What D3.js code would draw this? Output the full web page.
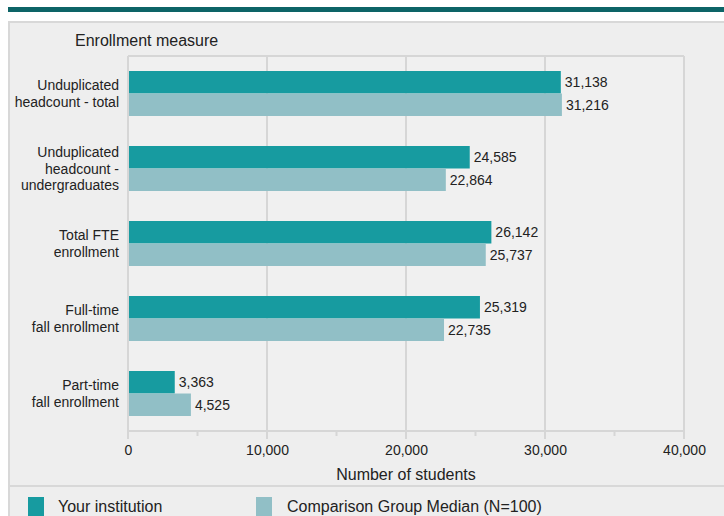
<!DOCTYPE html>
<html><head><meta charset="utf-8">
<script src="https://cdn.jsdelivr.net/npm/d3@7"></script>
<style>
html,body{margin:0;padding:0;background:#fff;}
svg{display:block;font-family:"Liberation Sans",Arial,sans-serif;}
</style></head>
<body>
<svg id="c" width="724" height="516"></svg>
<script>
const categories = [
  ["Unduplicated", "headcount - total"],
  ["Unduplicated", "headcount -", "undergraduates"],
  ["Total FTE", "enrollment"],
  ["Full-time", "fall enrollment"],
  ["Part-time", "fall enrollment"]
];
const institutionValues = [31138, 24585, 26142, 25319, 3363];
const medianValues = [31216, 22864, 25737, 22735, 4525];
const seriesNames = ["Your institution", "Comparison Group Median (N=100)"];
const xTicks = [0, 10000, 20000, 30000, 40000];
const minorTicks = [5000, 15000, 25000, 35000];
const yTitle = "Enrollment measure";
const xTitle = "Number of students";

const colors = ["#179ba0", "#91bfc6"];
const svg = d3.select("#c");
const W = 724, H = 516;

// header band
svg.append("rect").attr("x", 8).attr("y", 7).attr("width", W - 8).attr("height", 5).attr("fill", "#0d6467");
// panel
svg.append("rect").attr("x", 9).attr("y", 22).attr("width", W).attr("height", H).attr("fill", "#eeeeee")
  .attr("stroke", "#d8d8d8").attr("stroke-width", 2);
// legend separator
svg.append("line").attr("x1", 9).attr("x2", W).attr("y1", 486).attr("y2", 486).attr("stroke", "#d8d8d8").attr("stroke-width", 2);

const x0 = 128, x1 = 684, yTop = 56, yBot = 431;
const x = d3.scaleLinear().domain([0, 40000]).range([x0, x1]);
const y = d3.scaleBand().domain(d3.range(categories.length)).range([yTop, yBot]).paddingInner(0.4).paddingOuter(0.2);
const ySub = d3.scaleBand().domain([0, 1]).range([0, y.bandwidth()]);

svg.append("rect").attr("x", x0).attr("y", yTop).attr("width", x1 - x0).attr("height", yBot - yTop).attr("fill", "#f0f0f0");

// gridlines
const grid = svg.append("g");
grid.selectAll("line.g").data(xTicks).join("line")
  .attr("x1", d => x(d)).attr("x2", d => x(d)).attr("y1", yTop).attr("y2", yBot + 8)
  .attr("stroke", "#d6d6d6").attr("stroke-width", 2);
grid.append("line").attr("x1", x0).attr("x2", x1).attr("y1", yTop).attr("y2", yTop).attr("stroke", "#d6d6d6").attr("stroke-width", 2);
grid.append("line").attr("x1", x0).attr("x2", x1).attr("y1", yBot).attr("y2", yBot).attr("stroke", "#d6d6d6").attr("stroke-width", 2);
grid.selectAll("line.m").data(minorTicks).join("line")
  .attr("x1", d => x(d)).attr("x2", d => x(d)).attr("y1", yBot).attr("y2", yBot + 5)
  .attr("stroke", "#d6d6d6").attr("stroke-width", 2);

// axis labels
const xAxis = d3.axisBottom(x).tickValues(xTicks).tickSize(0).tickPadding(0).tickFormat(d3.format(","));
const ax = svg.append("g").attr("transform", `translate(0,${yBot + 14})`).call(xAxis);
ax.select(".domain").remove();
ax.selectAll("text").attr("font-size", 14).attr("fill", "#222").attr("font-family", "Liberation Sans, Arial, sans-serif");

svg.append("text").attr("x", x(20000)).attr("y", 474).attr("dy", "0.36em").attr("text-anchor", "middle")
  .attr("font-size", 16).attr("fill", "#222").text(xTitle);
svg.append("text").attr("x", 75).attr("y", 40).attr("dy", "0.36em").attr("font-size", 16).attr("fill", "#222").text(yTitle);

// bars
const series = [institutionValues, medianValues];
series.forEach((vals, s) => {
  const g = svg.append("g");
  g.selectAll("rect").data(vals).join("rect")
    .attr("x", x(0) + 1).attr("y", (d, i) => y(i) + ySub(s))
    .attr("width", d => x(d) - x(0) - 1).attr("height", ySub.bandwidth())
    .attr("fill", colors[s]);
  g.selectAll("text").data(vals).join("text")
    .attr("x", d => x(d) + 4).attr("y", (d, i) => y(i) + ySub(s) + ySub.bandwidth() / 2)
    .attr("dy", "0.36em").attr("font-size", 14).attr("fill", "#222")
    .text(d => d3.format(",")(d));
});

// category labels
categories.forEach((lines, i) => {
  const cy = y(i) + y.bandwidth() / 2;
  const lh = 16.5;
  const t = svg.append("text").attr("text-anchor", "end").attr("font-size", 14).attr("fill", "#222");
  lines.forEach((ln, k) => {
    t.append("tspan").attr("x", 119).attr("y", cy + (k - (lines.length - 1) / 2) * lh).attr("dy", "0.36em").text(ln);
  });
});

// legend
const leg = [[28, 58], [256, 287]];
seriesNames.forEach((n, s) => {
  svg.append("rect").attr("x", leg[s][0]).attr("y", 497).attr("width", 16).attr("height", 19).attr("fill", colors[s]);
  svg.append("text").attr("x", leg[s][1]).attr("y", 506).attr("dy", "0.36em").attr("font-size", 16).attr("fill", "#222").text(n);
});
</script>
</body></html>
